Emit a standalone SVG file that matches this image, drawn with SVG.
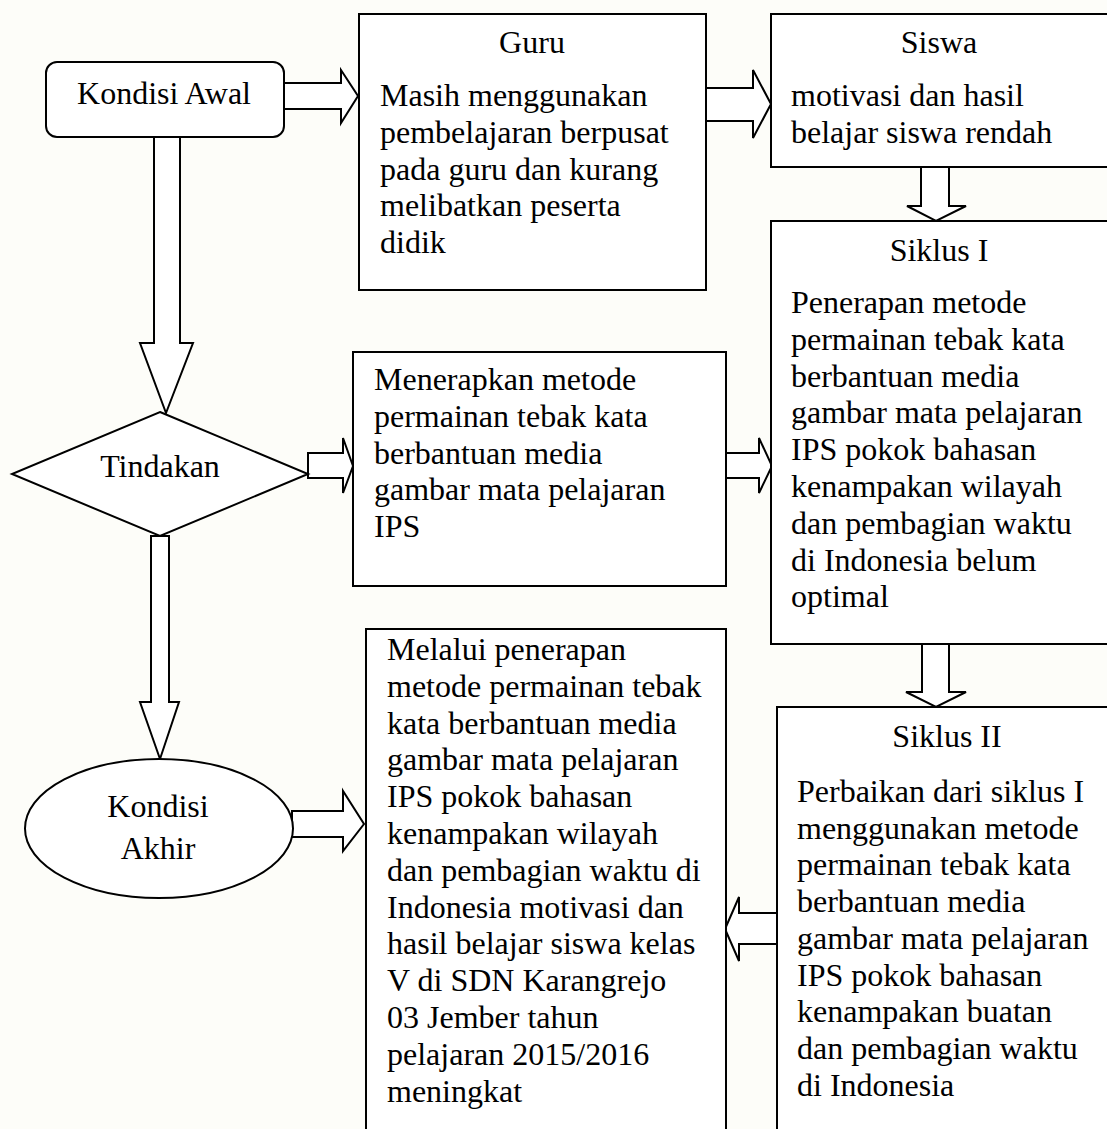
<svg xmlns="http://www.w3.org/2000/svg" width="1107" height="1129" viewBox="0 0 1107 1129">
<style>
  .shape { fill: #ffffff; stroke: #000000; stroke-width: 2; }
  .arrow { fill: #ffffff; stroke: #000000; stroke-width: 2; stroke-linejoin: miter; }
  text { font-family: "Liberation Serif", "Times New Roman", serif; font-size: 32px; fill: #000000; }
  .c { text-anchor: middle; }
</style>
<rect x="0" y="0" width="1107" height="1129" fill="#fdfdf9"/>

<g id="connectors">
  <polygon class="arrow" points="284,83 341,83 341,70 358,96 341,123 341,109 284,109"/>
  <polygon class="arrow" points="706,88 753,88 753,70 771,104 753,138 753,121 706,121"/>
  <polygon class="arrow" points="921,167 921,206 907,206 936,221 966,206 949,206 949,167"/>
  <polygon class="arrow" points="154,137 154,343 140,343 166,413 193,343 180,343 180,137"/>
  <polygon class="arrow" points="308,453 343,453 343,438 353,466 343,493 343,478 308,478"/>
  <polygon class="arrow" points="726,453 759,453 759,438 772,466 759,493 759,478 726,478"/>
  <polygon class="arrow" points="151,536 151,702 140,702 160,759 179,702 169,702 169,536"/>
  <polygon class="arrow" points="922,644 922,692 906,692 936,707 966,692 949,692 949,644"/>
  <polygon class="arrow" points="292,811 343,811 343,791 364,824 343,851 343,837 292,837"/>
  <polygon class="arrow" points="777,913 739,913 739,897 725,929 739,961 739,944 777,944"/>
</g>

<g id="kondisi-awal">
  <rect class="shape" x="46" y="62" width="238" height="75" rx="11" ry="11"/>
  <text class="c" x="164" y="104">Kondisi Awal</text>
</g>

<g id="guru">
  <rect class="shape" x="359" y="14" width="347" height="276"/>
  <text class="c" x="532" y="53">Guru</text>
  <text x="380" y="106">Masih menggunakan<tspan x="380" dy="36.8">pembelajaran berpusat</tspan><tspan x="380" dy="36.8">pada guru dan kurang</tspan><tspan x="380" dy="36.8">melibatkan peserta</tspan><tspan x="380" dy="36.8">didik</tspan></text>
</g>

<g id="siswa">
  <rect class="shape" x="771" y="14" width="340" height="153"/>
  <text class="c" x="939" y="53">Siswa</text>
  <text x="791" y="106">motivasi dan hasil<tspan x="791" dy="36.8">belajar siswa rendah</tspan></text>
</g>

<g id="siklus-1">
  <rect class="shape" x="771" y="221" width="340" height="423"/>
  <text class="c" x="939" y="261">Siklus I</text>
  <text x="791" y="313">Penerapan metode<tspan x="791" dy="36.8">permainan tebak kata</tspan><tspan x="791" dy="36.8">berbantuan media</tspan><tspan x="791" dy="36.8">gambar mata pelajaran</tspan><tspan x="791" dy="36.8">IPS pokok bahasan</tspan><tspan x="791" dy="36.8">kenampakan wilayah</tspan><tspan x="791" dy="36.8">dan pembagian waktu</tspan><tspan x="791" dy="36.8">di Indonesia belum</tspan><tspan x="791" dy="36.8">optimal</tspan></text>
</g>

<g id="tindakan">
  <polygon class="shape" points="160,412 308,474 160,536 12,474"/>
  <text class="c" x="160" y="477">Tindakan</text>
</g>

<g id="menerapkan">
  <rect class="shape" x="353" y="352" width="373" height="234"/>
  <text x="374" y="390">Menerapkan metode<tspan x="374" dy="36.8">permainan tebak kata</tspan><tspan x="374" dy="36.8">berbantuan media</tspan><tspan x="374" dy="36.8">gambar mata pelajaran</tspan><tspan x="374" dy="36.8">IPS</tspan></text>
</g>

<g id="siklus-2">
  <rect class="shape" x="777" y="707" width="340" height="440"/>
  <text class="c" x="947" y="747">Siklus II</text>
  <text x="797" y="802">Perbaikan dari siklus I<tspan x="797" dy="36.7">menggunakan metode</tspan><tspan x="797" dy="36.7">permainan tebak kata</tspan><tspan x="797" dy="36.7">berbantuan media</tspan><tspan x="797" dy="36.7">gambar mata pelajaran</tspan><tspan x="797" dy="36.7">IPS pokok bahasan</tspan><tspan x="797" dy="36.7">kenampakan buatan</tspan><tspan x="797" dy="36.7">dan pembagian waktu</tspan><tspan x="797" dy="36.7">di Indonesia</tspan></text>
</g>

<g id="kondisi-akhir">
  <ellipse class="shape" cx="159" cy="828.5" rx="134" ry="69.5"/>
  <text class="c" x="158" y="817">Kondisi</text>
  <text class="c" x="158" y="859">Akhir</text>
</g>

<g id="hasil-akhir">
  <rect class="shape" x="366" y="629" width="360" height="520"/>
  <text x="387" y="660">Melalui penerapan<tspan x="387" dy="36.8">metode permainan tebak</tspan><tspan x="387" dy="36.8">kata berbantuan media</tspan><tspan x="387" dy="36.8">gambar mata pelajaran</tspan><tspan x="387" dy="36.8">IPS pokok bahasan</tspan><tspan x="387" dy="36.8">kenampakan wilayah</tspan><tspan x="387" dy="36.8">dan pembagian waktu di</tspan><tspan x="387" dy="36.8">Indonesia motivasi dan</tspan><tspan x="387" dy="36.8">hasil belajar siswa kelas</tspan><tspan x="387" dy="36.8">V di SDN Karangrejo</tspan><tspan x="387" dy="36.8">03 Jember tahun</tspan><tspan x="387" dy="36.8">pelajaran 2015/2016</tspan><tspan x="387" dy="36.8">meningkat</tspan></text>
</g>
</svg>
